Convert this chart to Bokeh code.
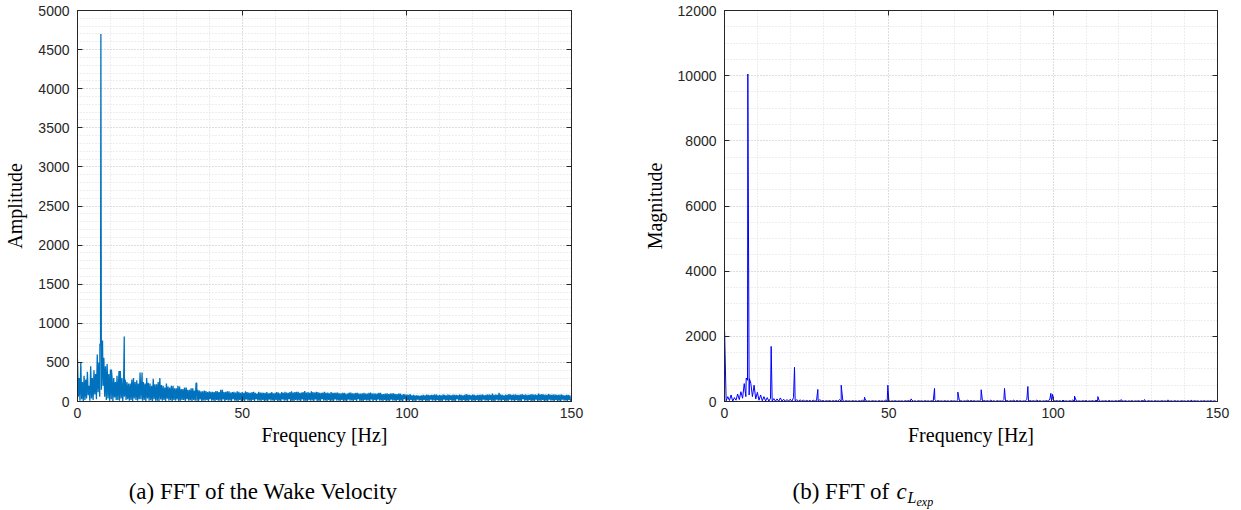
from bokeh.plotting import figure
from bokeh.layouts import row, column
from bokeh.models import Range1d, LinearAxis, SingleIntervalTicker, CustomJSTickFormatter
from bokeh.core.properties import value
from bokeh.embed import file_html
from bokeh.resources import INLINE

# ---------------- data ----------------
# Panel (a): FFT of the wake velocity -- band upper / lower values per 0.5 Hz bin (0..149.5 Hz)
wake_upper = [
    540, 300, 500, 250, 330, 280, 380, 200, 450, 300, 400, 350, 600, 500, 720, 760, 560, 450, 480, 350,
    410, 300, 300, 250, 330, 280, 390, 300, 260, 280, 250, 230, 230, 280, 300, 250, 270, 230, 370, 260,
    250, 230, 300, 240, 230, 200, 290, 220, 220, 250, 300, 210, 200, 180, 230, 190, 180, 200, 200, 170,
    170, 200, 190, 160, 160, 180, 180, 150, 150, 170, 170, 140, 235, 150, 140, 130, 130, 140, 135, 120,
    130, 125, 125, 120, 135, 130, 120, 150, 150, 120, 125, 130, 130, 115, 120, 125, 115, 130, 125, 110,
    120, 110, 130, 120, 115, 110, 120, 125, 110, 100, 125, 115, 115, 110, 110, 120, 105, 110, 120, 105,
    110, 120, 115, 105, 120, 110, 125, 115, 110, 120, 130, 115, 120, 125, 125, 110, 115, 120, 135, 115,
    120, 110, 130, 120, 115, 125, 120, 110, 110, 115, 125, 110, 115, 105, 120, 110, 110, 115, 115, 105,
    105, 110, 110, 100, 100, 115, 115, 105, 105, 110, 110, 100, 100, 105, 110, 100, 100, 110, 115, 100,
    105, 100, 100, 110, 110, 95, 95, 100, 105, 95, 100, 105, 105, 95, 95, 100, 100, 90, 95, 90,
    90, 85, 95, 80, 85, 80, 80, 75, 75, 80, 85, 80, 90, 85, 80, 85, 85, 90, 90, 80,
    85, 80, 90, 85, 80, 90, 85, 80, 90, 85, 85, 80, 90, 85, 80, 85, 95, 90, 85, 80,
    90, 85, 80, 85, 85, 90, 90, 80, 85, 90, 90, 85, 100, 85, 90, 85, 110, 90, 85, 80,
    90, 85, 95, 90, 85, 90, 90, 85, 85, 90, 95, 85, 90, 85, 85, 90, 95, 90, 90, 85,
    100, 90, 95, 90, 90, 85, 95, 90, 85, 90, 90, 85, 85, 90, 90, 80, 80, 85, 85, 80,
]
wake_lower = [
    60, 10, 30, 0, 20, 40, 80, 10, 40, 20, 90, 30, 120, 60, 150, 200, 60, 20, 40, 10,
    30, 0, 50, 20, 20, 10, 40, 0, 60, 20, 30, 10, 20, 0, 40, 20, 10, 30, 30, 10,
    20, 0, 40, 10, 15, 5, 30, 10, 10, 0, 25, 10, 20, 5, 35, 10, 15, 0, 20, 10,
    25, 5, 10, 20, 20, 0, 30, 10, 15, 5, 20, 10, 10, 0, 25, 5, 15, 10, 20, 0,
    30, 10, 15, 0, 20, 10, 10, 5, 25, 0, 20, 10, 15, 5, 30, 10, 10, 0, 20, 5,
    15, 0, 25, 10, 10, 5, 20, 0, 30, 10, 15, 5, 20, 0, 10, 5, 25, 10, 15, 0,
    20, 5, 10, 0, 25, 10, 15, 5, 30, 0, 10, 5, 20, 10, 15, 0, 25, 5, 10, 0,
    20, 10, 15, 0, 25, 5, 10, 0, 30, 10, 15, 5, 20, 0, 10, 5, 25, 10, 15, 0,
    20, 5, 10, 0, 25, 10, 15, 5, 20, 0, 30, 5, 10, 0, 20, 10, 15, 5, 25, 0,
    20, 0, 25, 10, 15, 5, 20, 0, 10, 5, 25, 10, 15, 0, 20, 5, 10, 0, 30, 10,
    15, 5, 20, 0, 10, 5, 25, 10, 15, 0, 20, 5, 10, 0, 25, 10, 15, 5, 20, 0,
    10, 5, 25, 10, 15, 0, 20, 5, 10, 0, 30, 10, 15, 5, 20, 0, 10, 5, 25, 0,
    15, 5, 20, 0, 10, 5, 25, 10, 15, 0, 20, 5, 10, 0, 25, 10, 15, 5, 20, 0,
    10, 5, 25, 10, 15, 0, 20, 5, 10, 0, 30, 10, 15, 5, 20, 0, 10, 5, 25, 0,
    15, 5, 20, 0, 10, 5, 25, 10, 15, 0, 20, 5, 10, 0, 25, 10, 15, 5, 20, 0,
]
wake_peak_freq = [6.8, 7.1, 7.6, 10.3, 12.6, 14.2, 19.6, 36.2]
wake_peak_amp = [740, 4700, 780, 410, 390, 830, 370, 235]

# Panel (b): FFT of c_L,exp -- baseline upper / lower per 1 Hz bin and harmonic peaks
cl_upper = [
    180, 150, 200, 120, 230, 300, 550, 650, 560, 500,
    280, 200, 150, 120, 100, 90, 80, 110, 70, 60,
    70, 120, 60, 50, 40, 35, 30, 40, 30, 60,
    30, 25, 30, 25, 30, 60, 30, 25, 20, 25,
    20, 25, 40, 25, 20, 25, 20, 25, 20, 40,
    30, 20, 25, 20, 20, 25, 30, 40, 20, 25,
    20, 25, 20, 25, 60, 30, 20, 25, 20, 25,
    20, 50, 25, 20, 40, 30, 25, 20, 50, 30,
    25, 40, 20, 25, 20, 60, 30, 25, 40, 30,
    25, 20, 70, 30, 25, 40, 25, 20, 30, 80,
    60, 30, 25, 40, 20, 25, 50, 30, 20, 25,
    30, 20, 25, 40, 25, 20, 25, 30, 20, 25,
    30, 20, 25, 20, 25, 20, 25, 30, 20, 25,
    20, 25, 20, 25, 20, 30, 20, 25, 20, 25,
    20, 25, 20, 25, 20, 20, 25, 20, 25, 20,
]
cl_lower = [
    20, 30, 10, 40, 60, 100, 150, 200, 150, 80,
    40, 20, 15, 10, 5, 10, 5, 10, 5, 10,
    5, 10, 5, 10, 5, 10, 5, 10, 5, 10,
    5, 10, 5, 10, 5, 10, 5, 10, 5, 10,
    5, 10, 5, 10, 5, 10, 5, 10, 5, 10,
    5, 10, 5, 10, 5, 10, 5, 10, 5, 10,
    5, 10, 5, 10, 5, 10, 5, 10, 5, 10,
    5, 10, 5, 10, 5, 10, 5, 10, 5, 10,
    5, 10, 5, 10, 5, 10, 5, 10, 5, 10,
    5, 10, 5, 10, 5, 10, 5, 10, 5, 10,
    5, 10, 5, 10, 5, 10, 5, 10, 5, 10,
    5, 10, 5, 10, 5, 10, 5, 10, 5, 10,
    5, 10, 5, 10, 5, 10, 5, 10, 5, 10,
    5, 10, 5, 10, 5, 10, 5, 10, 5, 10,
    5, 10, 5, 10, 5, 10, 5, 10, 5, 10,
]
cl_peak_freq = [0.02, 6.6, 7.1, 7.6, 14.2, 21.3, 28.4, 35.5, 42.6, 49.7, 56.8, 63.9,
                71.0, 78.1, 85.2, 92.3, 99.3, 99.8, 106.5, 113.6, 120.7, 127.8, 134.9, 142.0]
cl_peak_mag = [2150, 720, 10050, 700, 1690, 1050, 370, 500, 130, 500, 80, 400,
               290, 360, 400, 460, 250, 220, 165, 150, 60, 60, 50, 40]

x_tick_interval = 50
y_tick_interval_a = 500
y_tick_interval_b = 2000

caption_a = "(a) FFT of the Wake Velocity"
caption_b = ["(b) FFT of", "c", "L", "exp"]


def build_series(upper, lower, step, pf, pv):
    pts = []
    for i in range(len(upper)):
        pts.append((i * step, upper[i]))
        pts.append((i * step + step / 2, lower[i]))
    pts += list(zip(pf, pv))
    pts.sort(key=lambda t: t[0])
    return [t[0] for t in pts], [t[1] for t in pts]


AX = "#262626"
TICKFONT = "Liberation Sans"
SERIF = "Liberation Serif"


def make_panel(xs, ys, color, lw, ymax, ymaj, yminor_n, ylabel, left, right, fw):
    p = figure(frame_width=fw, frame_height=391,
               min_border_left=left, min_border_right=right,
               min_border_top=10, min_border_bottom=52,
               x_range=Range1d(0, 150), y_range=Range1d(0, ymax),
               output_backend="svg", toolbar_location=None,
               background_fill_color="white", border_fill_color="white")
    p.outline_line_color = AX
    p.outline_line_width = 1
    xt = SingleIntervalTicker(interval=x_tick_interval, num_minor_ticks=5)
    yt = SingleIntervalTicker(interval=ymaj, num_minor_ticks=yminor_n)
    p.xaxis.ticker = xt
    p.yaxis.ticker = yt
    for ax in (p.xaxis[0], p.yaxis[0]):
        ax.major_tick_in = 5
        ax.major_tick_out = 0
        ax.minor_tick_in = 0
        ax.minor_tick_out = 0
        ax.axis_line_color = AX
        ax.major_tick_line_color = AX
        ax.major_label_text_font = TICKFONT
        ax.major_label_text_font_size = "14px"
        ax.major_label_text_color = AX
        ax.axis_label_text_font = SERIF
        ax.axis_label_text_font_style = "normal"
        ax.axis_label_text_font_size = "20px"
        ax.axis_label_text_color = "black"
    p.xaxis.major_label_standoff = 6
    p.xaxis.axis_label_standoff = 3
    p.yaxis.major_label_standoff = 8
    p.yaxis.axis_label_standoff = 9
    p.xaxis.axis_label = "Frequency [Hz]"
    p.yaxis.axis_label = ylabel

    empty = CustomJSTickFormatter(code="return ''")
    for loc, tk in (("above", xt), ("right", yt)):
        a = LinearAxis(ticker=tk, formatter=empty, major_tick_in=5, major_tick_out=0,
                       minor_tick_in=0, minor_tick_out=0, major_label_standoff=0,
                       major_label_text_font_size="0px", axis_line_color=AX,
                       major_tick_line_color=AX)
        p.add_layout(a, loc)

    for g in (p.xgrid[0], p.ygrid[0]):
        g.grid_line_color = "#cfcfcf"
        g.grid_line_dash = "1 2"
        g.grid_line_width = 1
        g.minor_grid_line_color = "#dddddd"
        g.minor_grid_line_dash = "1 2"
        g.minor_grid_line_width = 1

    p.line(xs, ys, line_color=color, line_width=lw)
    return p


xa, ya = build_series(wake_upper, wake_lower, 0.5, wake_peak_freq, wake_peak_amp)
xb, yb = build_series(cl_upper, cl_lower, 1.0, cl_peak_freq, cl_peak_mag)

p1 = make_panel(xa, ya, "#0072BD", 1.3, 5000, y_tick_interval_a, 5, "Amplitude", 77, 49, 494)
p2 = make_panel(xb, yb, "#0000FF", 1.0, 12000, y_tick_interval_b, 4, "Magnitude", 104, 24, 493)

# caption strip (pixel-like coordinates across the whole width)
cap = figure(frame_width=1241, frame_height=57, min_border=0,
             x_range=Range1d(0, 1241), y_range=Range1d(0, 57),
             x_axis_type=None, y_axis_type=None,
             output_backend="svg", toolbar_location=None,
             background_fill_color="white", border_fill_color="white")
cap.outline_line_color = None
cap.grid.visible = False

FS = 23
cap.text(x=[263], y=[19], text=[caption_a], text_font=value(SERIF), text_font_size=f"{FS}px",
         text_align="center", text_baseline="alphabetic", text_color="black")
bx = 792
cap.text(x=[bx], y=[19], text=[caption_b[0]], text_font=value(SERIF), text_font_size=f"{FS}px",
         text_align="left", text_baseline="alphabetic", text_color="black")
cap.text(x=[bx + 104], y=[19], text=[caption_b[1]], text_font=value(SERIF), text_font_size=f"{FS}px",
         text_font_style="italic", text_align="left", text_baseline="alphabetic", text_color="black")
cap.text(x=[bx + 115], y=[13], text=[caption_b[2]], text_font=value(SERIF), text_font_size="16px",
         text_font_style="italic", text_align="left", text_baseline="alphabetic", text_color="black")
cap.text(x=[bx + 124], y=[9], text=[caption_b[3]], text_font=value(SERIF), text_font_size="12px",
         text_font_style="italic", text_align="left", text_baseline="alphabetic", text_color="black")

layout = column(row(p1, p2), cap)
open("out.html", "w").write(file_html(layout, INLINE))
